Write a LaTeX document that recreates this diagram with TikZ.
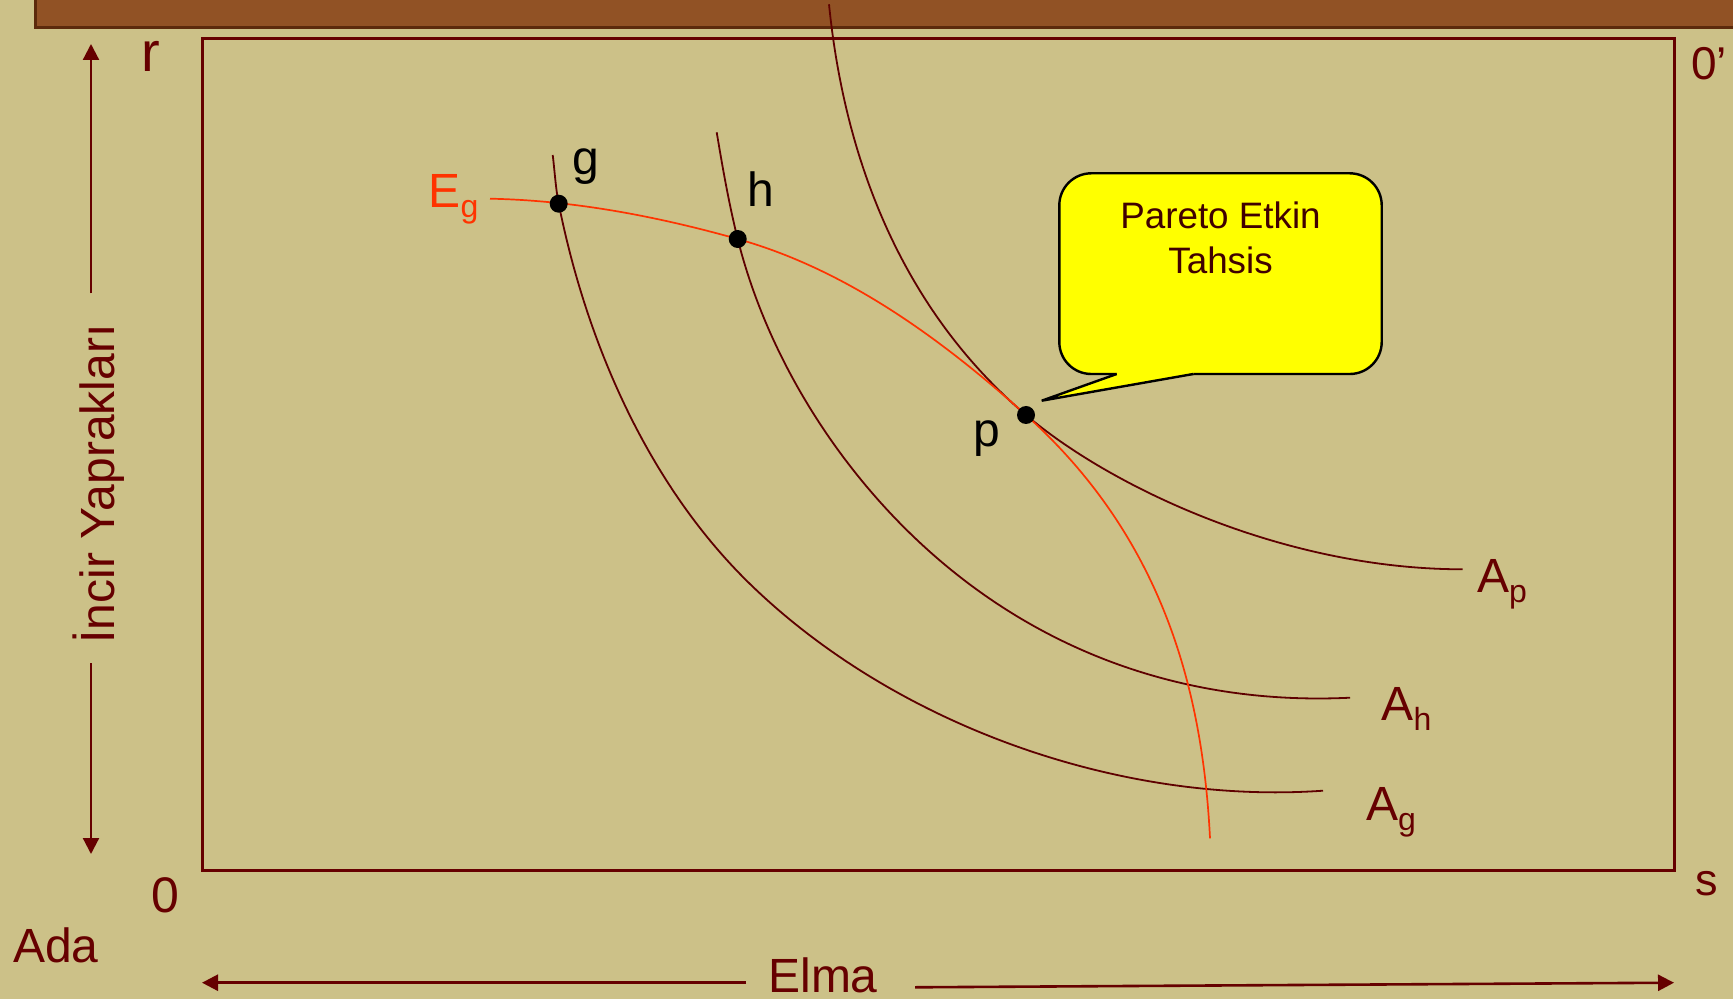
\documentclass[tikz,border=0pt]{standalone}
\usepackage{fontspec}
\setmainfont{Liberation Sans}
\usetikzlibrary{arrows.meta}

\definecolor{bg}{HTML}{CCC188}
\definecolor{bar}{HTML}{915225}
\definecolor{barline}{HTML}{5C2A0C}
\definecolor{ink}{HTML}{660000}
\definecolor{curve}{HTML}{5E0000}
\definecolor{edge}{HTML}{FF3300}
\definecolor{note}{HTML}{FFFF00}
\definecolor{notetext}{HTML}{400000}

% lowered, smaller index text
\newcommand\dn[1]{\raisebox{-5pt}{\fontsize{16}{19}\selectfont #1}}

\begin{document}
\begin{tikzpicture}[x=0.5pt,y=-0.5pt,
  every node/.style={inner sep=0pt,outer sep=0pt},
  axisline/.style={draw=ink,line width=1.1pt,-{Triangle[length=8pt,width=8pt]}},
  bigtxt/.style={font=\fontsize{24}{28}\selectfont,text=ink},
  ptlabel/.style={font=\fontsize{24}{28}\selectfont,text=black,anchor=base},
  curvelabel/.style={font=\fontsize{24}{28}\selectfont,text=ink,anchor=base west},
  indiff/.style={draw=curve,line width=0.9pt},
  contract/.style={draw=edge,line width=0.85pt},
  dot/.style={circle,fill=black,minimum size=9pt},
  callout/.style={draw=black,fill=note,line width=1.2pt,rounded corners=16pt,
    minimum width=161.2pt,text height=50.35pt,text depth=50pt,align=center,
    font=\fontsize{18.4}{22.5}\selectfont,text=notetext,anchor=north}
]
% page and background
\fill[bg] (0,0) rectangle (1733,999);
\useasboundingbox (0,0) rectangle (1733,999);

% title bar along the top
\filldraw[fill=bar,draw=barline,line width=1.5pt] (35,-10) rectangle (1745,28);

% Edgeworth box frame
\draw[ink,line width=1.5pt] (202,39) rectangle (1674,870.7);

% corner labels
\node[bigtxt,font=\fontsize{28}{32}\selectfont,anchor=base] (r) at (151,72) {r};
\node[bigtxt,font=\fontsize{23}{27}\selectfont,anchor=base west] (oprime) at (1691,80) {0’};
\node[bigtxt,font=\fontsize{25}{29}\selectfont,anchor=base] (o) at (165.7,912.7) {0};
\node[bigtxt,font=\fontsize{22.5}{27}\selectfont,anchor=base] (s) at (1707,895) {s};
\node[bigtxt,anchor=base west] (ada) at (13,962.7) {Ada};

% vertical axis: figs
\node[bigtxt,rotate=90,anchor=base] (fig) at (114.3,484) {İncir Yaprakları};
\coordinate (figtop) at (91,44);
\coordinate (figtopstart) at (91,293.3);
\coordinate (figbot) at (91,854);
\coordinate (figbotstart) at (91,663.3);
\draw[axisline] (figtopstart) -- (figtop);
\draw[axisline] (figbotstart) -- (figbot);

% horizontal axis: apples
\node[bigtxt,anchor=base,text depth=0pt] (elma) at (823,992) {Elma};
\coordinate (applel) at (202,982.7);
\coordinate (appleleftstart) at (746,982.7);
\coordinate (appler) at (1674,982.7);
\coordinate (applerightstart) at (915,987.3);
\draw[axisline,line width=1.3pt] (appleleftstart) -- (applel);
\draw[axisline,line width=1.3pt] (applerightstart) -- (appler);

% allocation points
\coordinate (gpt) at (558.7,203.7);
\coordinate (hpt) at (737.7,239);
\coordinate (ppt) at (1026,415);

% indifference curves
\coordinate (ag0) at (552.7,155);
\coordinate (agm) at (750,584);
\coordinate (ag1) at (1323,790.7);
\draw[indiff] (ag0) .. controls (554.7,170.9) and (555.6,188) .. (gpt)
  .. controls (586.5,342.9) and (648.2,485) .. (agm)
  .. controls (895.6,725.5) and (1120.2,805) .. (ag1);

\coordinate (ah0) at (716.7,132.3);
\coordinate (ahm) at (900,523.3);
\coordinate (ah1) at (1350,697.7);
\draw[indiff] (ah0) .. controls (722.6,167.8) and (729,204.1) .. (hpt)
  .. controls (764.2,344.7) and (823.7,445.5) .. (ahm)
  .. controls (1022.5,648) and (1180,706) .. (ah1);

\coordinate (ap0) at (829,4.3);
\coordinate (ap1) at (1462.7,569.3);
\draw[indiff] (ap0) .. controls (846,173.5) and (910.2,316.5) .. (ppt)
  .. controls (1109.8,486.3) and (1282.7,569.3) .. (ap1);

% contract curve
\coordinate (e0) at (490,198.7);
\coordinate (e1) at (1210,838.3);
\draw[contract] (e0) .. controls (574,200.4) and (656.8,216.3) .. (hpt)
  .. controls (846.5,269.5) and (942,339.4) .. (ppt)
  .. controls (1159.7,535.4) and (1202.3,684.4) .. (e1);

% dots on top of the curves
\node[dot] (g) at (gpt) {};
\node[dot] (h) at (hpt) {};
\node[dot] (p) at (ppt) {};

% point and curve labels
\node[ptlabel] (glab) at (586,175) {g};
\node[ptlabel] (hlab) at (761,206.7) {h};
\node[ptlabel] (plab) at (987,446.7) {p};
\node[curvelabel,text=edge] (eglab) at (428.7,207.3) {E\dn{g}};
\node[curvelabel] (aplab) at (1477,592) {A\dn{p}};
\node[curvelabel] (ahlab) at (1381.7,720.7) {A\dn{h}};
\node[curvelabel] (aglab) at (1366,820) {A\dn{g}};

% speech bubble pointing at p
\node[callout] (note) at (1220.5,173.3) {Pareto Etkin\\Tahsis};
\coordinate (tipl) at (1116.7,374);
\coordinate (tipr) at (1193.3,374);
\coordinate (tip) at (1041.7,400.7);
\fill[note] (1116.7,370) -- (tipl) -- (tip) -- (tipr) -- (1193.3,370) -- cycle;
\draw[black,line width=1.2pt,line join=miter] (tipl) -- (tip) -- (tipr);
\end{tikzpicture}
\end{document}
